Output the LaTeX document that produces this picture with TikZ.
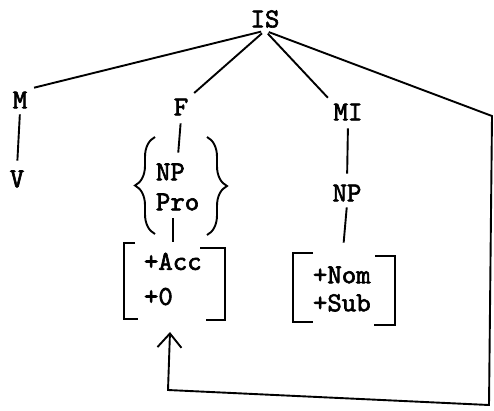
\documentclass[tikz,border=0pt]{standalone}
\usepackage{fontspec}
\setmonofont{lmmono10-regular.otf}[AutoFakeBold=2.2]
\usepackage{tikz}
\usetikzlibrary{arrows.meta,decorations.pathreplacing}
\newcommand{\treefont}{\ttfamily\bfseries\fontsize{27.5}{30}\selectfont}

\begin{document}
\begin{tikzpicture}[x=1pt,y=-1pt,line width=1.9pt,
  cat/.style={font=\treefont,inner sep=2pt},
  grp/.style={cat,align=left,anchor=west},
  stem/.style={shorten <=5pt,shorten >=8pt},
  curly/.style={decorate,decoration={brace,amplitude=20pt}}]
\useasboundingbox (0,0) rectangle (494,410);
% top of the tree
\node[cat] (is) at (265,19) {IS};
\node[cat] (m) at (20,100) {M};
\node[cat] (v) at (17,179) {V};
\node[cat] (f) at (181,107) {F};
\node[cat] (mi) at (348,112) {MI};
% lower parts
\node[grp] (fgrp) at (153,187) {NP\\Pro};
\node[grp] (accgrp) at (141,279) {+Acc\\[5pt]+0};
\node[cat] (npmi) at (347,193) {NP};
\node[grp] (nomgrp) at (310,289) {+Nom\\[-2pt]+Sub};
\coordinate (corner) at (492,116);
\coordinate (loopr) at (489,405);
\coordinate (loopl) at (168,390);
\coordinate (target) at (170,332);
% branches
\draw[shorten <=4pt,shorten >=4pt] (is.south) -- (m.north east);
\draw[shorten <=4pt,shorten >=4pt] (is.south) -- (f.north east);
\draw[shorten <=4pt,shorten >=4pt] (is.south) -- (mi.north west);
\draw[shorten <=3pt,shorten >=7pt] (m.south) -- (v.north);
\draw[stem] (f.south) -- (fgrp.north);
\draw[stem] (fgrp.south -| accgrp.north) -- (accgrp.north);
\draw[stem] (mi.south) -- (npmi.north);
\draw[shorten <=3pt,shorten >=21pt] (npmi.south) -- (nomgrp.north);
% braces and brackets
\draw[curly] (155,234) -- (155,137);
\draw[curly] (207,137) -- (207,235);
\draw (135,243) -- (124,243) -- (124,319) -- (138,319);
\draw (200,248) -- (225,248) -- (225,320) -- (206,320);
\draw (313,253) -- (293,253) -- (293,322) -- (313,322);
\draw (375,256) -- (395,256) -- (395,325) -- (374,325);
% long loop back
\draw[-{Straight Barb[length=14pt,width=24pt]},shorten <=4pt]
  (is.south) -- (corner) -- (loopr) -- (loopl) -- (target);
\end{tikzpicture}
\end{document}
